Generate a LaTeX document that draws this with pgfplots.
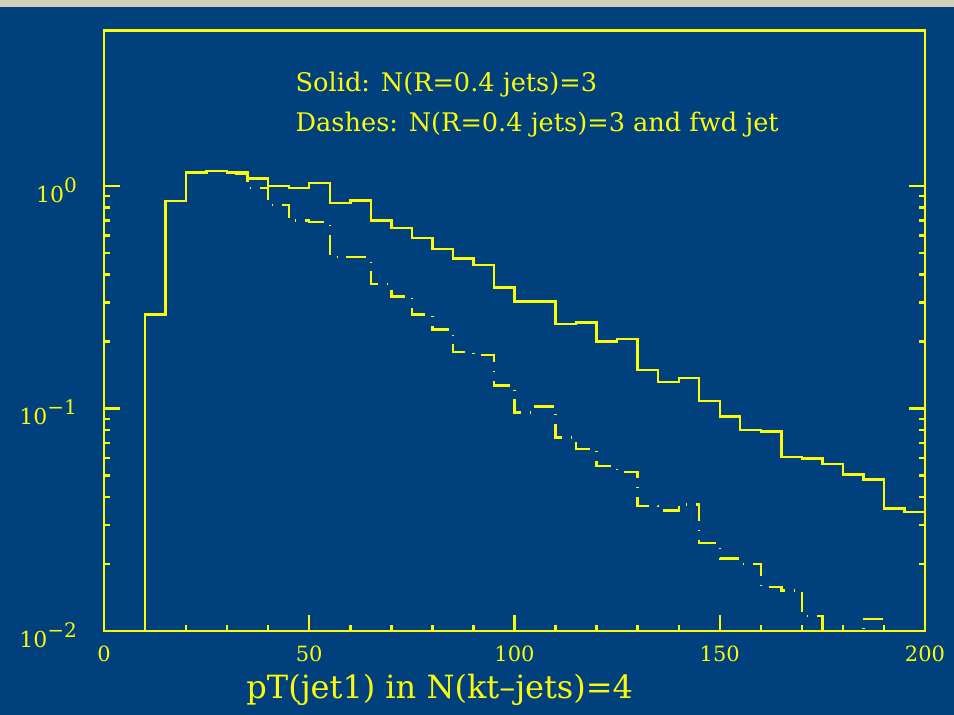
\documentclass[border=0pt]{standalone}
\usepackage{fontspec}
\setmainfont{DejaVu Serif}
\usepackage{pgfplots}
\pgfplotsset{compat=1.18}
\definecolor{bgblue}{RGB}{0,64,124}
\definecolor{ylw}{RGB}{250,250,10}
\definecolor{strip}{RGB}{210,207,184}
\newcommand{\supx}[1]{\raisebox{5pt}{\fontsize{10}{11}\selectfont #1}}
\begin{document}
\begin{tikzpicture}
\fill[bgblue] (0,0) rectangle (477pt,357.5pt);
\fill[strip] (0,354pt) rectangle (477pt,357.5pt);
\useasboundingbox (0,0) rectangle (477pt,357.5pt);
\begin{axis}[
  at={(52pt,42pt)}, anchor=south west,
  scale only axis, width=410.5pt, height=300.2pt,
  xmin=0, xmax=200, ymin=0.01, ymax=5, ymode=log,
  axis line style={ylw, line width=1.2pt},
  every tick/.style={ylw, line width=1.2pt},
  major tick length=8pt, minor tick length=2.8pt,
  xtick={0,50,100,150,200}, minor x tick num=4,
  xticklabels={0,50,100,150,200},
  ytick={0.01,0.1,1},
  yticklabels={10\supx{−2},10\supx{−1},10\supx{0}},
  xtick pos=bottom, ytick pos=both,
  tick label style={text=ylw},
  xticklabel style={yshift=-4pt, font=\fontsize{10.5}{12}\selectfont},
  yticklabel style={xshift=-10pt, yshift=-2pt, font=\fontsize{11}{12}\selectfont},
  xlabel={pT(jet1) in N(kt–jets)=4},
  xlabel style={at={(axis description cs:0.409,-0.098)}, anchor=center, text=ylw, font=\fontsize{16}{18}\selectfont},
  clip=true,
]
\addplot[const plot mark left, ylw, line width=1.2pt] coordinates {
(10,0.001) (10,0.265) (15,0.855) (20,1.15) (25,1.17) (30,1.15) (35,1.08) (40,1.00) (45,0.98) (50,1.03)
(55,0.84) (60,0.86) (65,0.70) (70,0.65) (75,0.586) (80,0.52) (85,0.472) (90,0.442) (95,0.35)
(100,0.303) (105,0.303) (110,0.24) (115,0.244) (120,0.20) (125,0.205) (130,0.149) (135,0.132)
(140,0.137) (145,0.108) (150,0.092) (155,0.080) (160,0.079) (165,0.0607) (170,0.0597)
(175,0.0562) (180,0.0506) (185,0.048) (190,0.0356) (195,0.0342) (200,0.0342)
};
\addplot[const plot mark left, ylw, line width=1.2pt, dash pattern=on 10pt off 4.5pt on 0.4pt off 4.5pt] coordinates {
(10,0.001) (10,0.265) (15,0.855) (20,1.15) (25,1.17) (30,1.13) (35,0.98) (40,0.82) (45,0.70) (50,0.69)
(55,0.48) (60,0.48) (65,0.363) (70,0.319) (75,0.265) (80,0.227) (85,0.179) (90,0.174) (95,0.127)
(100,0.096) (105,0.102) (110,0.074) (115,0.0658) (120,0.055) (125,0.052) (130,0.0364) (135,0.0348)
(140,0.0371) (145,0.0248) (150,0.0212) (155,0.020) (160,0.0158) (165,0.0152) (170,0.0117)
(175,0.008) (180,0.008) (185,0.0113) (190,0.008) (195,0.008) (200,0.008)
};
\node[anchor=base west, inner sep=0pt, text=ylw, font=\fontsize{12.8}{15}\selectfont] at (axis description cs:0.233,0.8984) {Solid: N(R=0.4 jets)=3};
\node[anchor=base west, inner sep=0pt, text=ylw, font=\fontsize{12.8}{15}\selectfont] at (axis description cs:0.233,0.8318) {Dashes: N(R=0.4 jets)=3 and fwd jet};
\end{axis}
\end{tikzpicture}
\end{document}
